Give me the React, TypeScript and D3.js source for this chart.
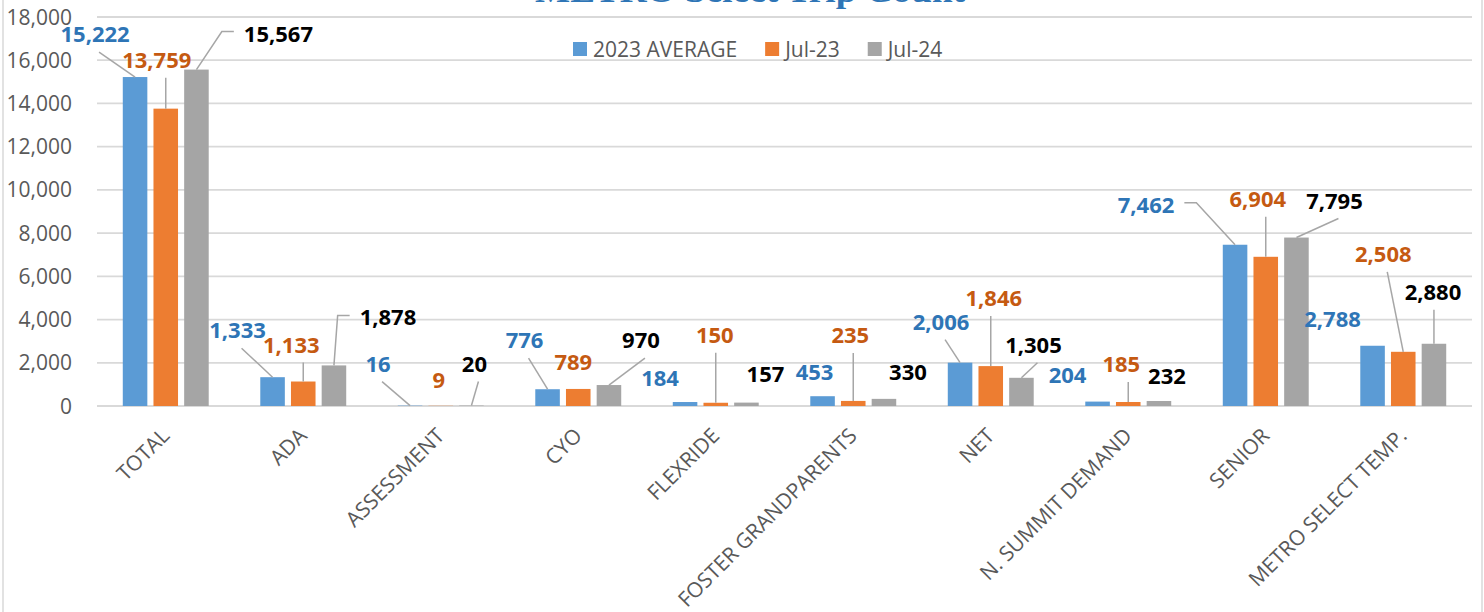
import React, { useEffect, useRef } from "react";
import * as d3 from "d3";

const chartTitle = "METRO Select Trip Count";
const categories = [
  "TOTAL",
  "ADA",
  "ASSESSMENT",
  "CYO",
  "FLEXRIDE",
  "FOSTER GRANDPARENTS",
  "NET",
  "N. SUMMIT DEMAND",
  "SENIOR",
  "METRO SELECT TEMP.",
];
const seriesNames = ["2023 AVERAGE", "Jul-23", "Jul-24"];
const avg2023 = [15222, 1333, 16, 776, 184, 453, 2006, 204, 7462, 2788];
const jul23 = [13759, 1133, 9, 789, 150, 235, 1846, 185, 6904, 2508];
const jul24 = [15567, 1878, 20, 970, 157, 330, 1305, 232, 7795, 2880];
const yTicks = [0, 2000, 4000, 6000, 8000, 10000, 12000, 14000, 16000, 18000];

// hand-moved data labels: [dx, dy] px from bar top, leader (0 none, 1 to label, 2 straight down, 3 elbow)
const avgLabelPos = [
  [-40, -35, 1], [-35, -39, 1], [-32, -34, 1], [-23, -41, 1], [-25, -16, 0],
  [-8, -16, 0], [-19, -33, 1], [-30, -19, 0], [-89, -32, 3], [-40, -19, 0],
];
const jul23LabelPos = [
  [-9, -41, 2], [-12, -29, 2], [-2, -18, 0], [-5, -19, 0], [-1, -60, 2],
  [-3, -58, 2], [3, -60, 2], [-7, -30, 2], [-8, -50, 2], [-20, -90, 1],
];
const jul24LabelPos = [
  [82, -28, 3], [54, -40, 3], [3, -34, 1], [32, -37, 1], [19, -21, 0],
  [24, -19, 0], [12, -25, 1], [8, -17, 0], [38, -29, 1], [-1, -44, 2],
];

const barColors = ["#5B9BD5", "#ED7D31", "#A5A5A5"];
const labelColors = ["#2E75B6", "#C55A11", "#000000"];
const font = "'Open Sans', 'Noto Sans', sans-serif";

export default function App() {
  const svgRef = useRef<SVGSVGElement>(null);

  useEffect(() => {
    const width = 1484;
    const height = 612;
    const plot = { left: 97, right: 1472, top: 17, bottom: 406 };
    const series = [avg2023, jul23, jul24];
    const labelPos = [avgLabelPos, jul23LabelPos, jul24LabelPos];

    const svg = d3.select(svgRef.current);
    svg.selectAll("*").remove();
    svg.attr("width", width).attr("height", height);

    svg.append("rect")
      .attr("width", width).attr("height", height).attr("fill", "#fff");
    svg.append("rect")
      .attr("x", 3).attr("y", -20).attr("width", 1479).attr("height", 660)
      .attr("fill", "none").attr("stroke", "#D9D9D9").attr("stroke-width", 1.5);

    // title sits mostly above the visible area, as in the source screenshot
    svg.append("text")
      .attr("x", 750).attr("y", 2)
      .attr("text-anchor", "middle")
      .attr("textLength", 430).attr("lengthAdjust", "spacingAndGlyphs")
      .style("font-family", "'Liberation Serif', 'DejaVu Serif', serif")
      .style("font-weight", "bold").style("font-size", "34px")
      .attr("fill", "#2E75B6")
      .text(chartTitle);

    const x = d3.scaleBand().domain(categories).range([plot.left, plot.right]);
    const groupW = x.bandwidth() * 0.625;
    const xs = d3.scaleBand().domain(seriesNames)
      .range([(x.bandwidth() - groupW) / 2, (x.bandwidth() + groupW) / 2])
      .paddingInner(0.2);
    const y = d3.scaleLinear().domain([0, 18000]).range([plot.bottom, plot.top]);

    // gridlines
    svg.append("g").selectAll("line").data(yTicks).enter().append("line")
      .attr("x1", plot.left).attr("x2", plot.right)
      .attr("y1", d => y(d)).attr("y2", d => y(d))
      .attr("stroke", "#D9D9D9").attr("stroke-width", 1.8);

    svg.append("g").selectAll("text").data(yTicks).enter().append("text")
      .attr("x", 72).attr("y", d => y(d)).attr("dy", "0.36em")
      .attr("text-anchor", "end")
      .style("font-family", font).style("font-size", "21px")
      .attr("fill", "#595959")
      .text(d => d3.format(",")(d));

    // category labels
    svg.append("g").selectAll("text").data(categories).enter().append("text")
      .attr("transform", d => `translate(${x(d)! + x.bandwidth() / 2 + 5},437) rotate(-45)`)
      .attr("text-anchor", "end")
      .style("font-family", font).style("font-size", "21px")
      .attr("fill", "#595959")
      .text(d => d);

    // bars
    series.forEach((vals, si) => {
      svg.append("g").selectAll("rect").data(vals).enter().append("rect")
        .attr("x", (d, i) => x(categories[i])! + xs(seriesNames[si])!)
        .attr("width", xs.bandwidth())
        .attr("y", d => y(d))
        .attr("height", d => y(0) - y(d))
        .attr("fill", barColors[si]);
    });

    // data labels and leader lines
    const leaders = svg.append("g");
    series.forEach((vals, si) => {
      vals.forEach((v, i) => {
        const bx = x(categories[i])! + xs(seriesNames[si])! + xs.bandwidth() / 2;
        const by = y(v);
        const [dx, dy, kind] = labelPos[si][i];
        const lx = bx + dx;
        const ly = by + dy;
        const t = svg.append("text")
          .attr("x", lx).attr("y", ly)
          .attr("text-anchor", "middle")
          .style("font-family", font).style("font-weight", "bold").style("font-size", "22px")
          .attr("fill", labelColors[si])
          .text(d3.format(",")(v));
        let pts: [number, number][] = [];
        if (kind === 1) {
          pts = [[lx + 4, ly + 10], [bx, by]];
        } else if (kind === 2) {
          pts = [[bx, ly + 10], [bx, by]];
        } else if (kind === 3) {
          const bb = (t.node() as SVGTextElement).getBBox();
          const my = ly - 10;
          if (bx < bb.x) {
            pts = [[bb.x - 10, my], [bb.x - 22, my], [bx, by]];
          } else {
            const r = bb.x + bb.width;
            pts = [[r + 10, my], [r + 22, my], [bx, by]];
          }
        }
        if (pts.length) {
          leaders.append("path")
            .attr("d", d3.line()(pts))
            .attr("fill", "none")
            .attr("stroke", "#A6A6A6").attr("stroke-width", 1.5);
        }
      });
    });

    // legend
    const legend = svg.append("g");
    let lxPos = 573;
    seriesNames.forEach((name, si) => {
      legend.append("rect")
        .attr("x", lxPos).attr("y", 42).attr("width", 14).attr("height", 14)
        .attr("fill", barColors[si]);
      const t = legend.append("text")
        .attr("x", lxPos + 20).attr("y", 57)
        .style("font-family", font).style("font-size", "21px")
        .attr("fill", "#595959")
        .text(name);
      const w = (t.node() as SVGTextElement).getComputedTextLength();
      lxPos += 20 + w + 28;
    });
  }, []);

  return (
    <div style={{ position: "fixed", left: 0, top: 0 }}>
      <svg ref={svgRef} style={{ display: "block" }}></svg>
    </div>
  );
}
